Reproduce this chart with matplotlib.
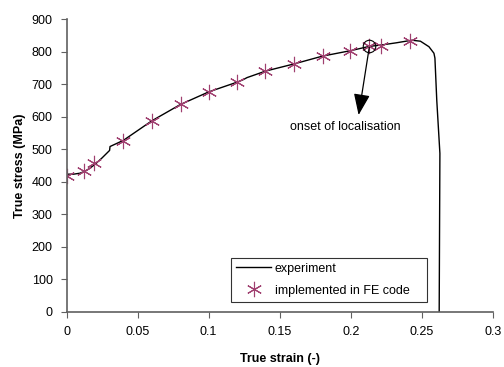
import numpy as np
import matplotlib
matplotlib.use('Agg')
import matplotlib.pyplot as plt

plt.rcParams['font.family'] = ['Liberation Sans', 'DejaVu Sans']

# experiment curve (true strain, true stress)
exp_strain = [0, 0.005, 0.0095, 0.013, 0.016, 0.02, 0.025, 0.0303, 0.0306, 0.04, 0.06, 0.08,
              0.1, 0.12, 0.124, 0.127, 0.14, 0.16, 0.18, 0.2, 0.213, 0.221, 0.232, 0.243,
              0.249, 0.255, 0.2585, 0.2592, 0.2605, 0.2627, 0.2622]
exp_stress = [423, 423, 426, 432, 440, 453, 473, 496, 508, 527, 587, 637,
              676, 706, 713, 720, 740, 762, 786, 803, 816, 820, 827, 835,
              832, 815, 795, 780, 650, 487, 0]

# points implemented in FE code
fe_strain = [0, 0.0125, 0.0196, 0.04, 0.06, 0.0805, 0.1, 0.12, 0.1396, 0.16, 0.1806,
             0.1994, 0.213, 0.221, 0.242]
fe_stress = [418, 432, 457, 525, 587, 638, 676, 706, 740, 761, 787, 802, 818, 818, 833]

xticks = [0, 0.05, 0.1, 0.15, 0.2, 0.25, 0.3]
xtick_labels = ['0', '0.05', '0.1', '0.15', '0.2', '0.25', '0.3']
yticks = [0, 100, 200, 300, 400, 500, 600, 700, 800, 900]

onset = (0.213, 818)

fig = plt.figure(figsize=(5.04, 3.67), dpi=100)
ax = fig.add_axes([0.132, 0.1507, 0.846, 0.7973])

ax.plot(exp_strain, exp_stress, color='black', lw=1.0, label='experiment')
ax.plot(fe_strain, fe_stress, ls='none', marker=(6, 2, 0), ms=11, mew=0.8,
        color='#a04070', label='implemented in FE code')

# circle on onset of localisation + arrow
ax.plot(onset[0], onset[1], ls='none', marker='o', ms=9, mfc='none', mec='black', mew=0.8)
ax.annotate('', xy=(0.2055, 605), xytext=(onset[0], onset[1] - 5),
            arrowprops=dict(arrowstyle='-|>,head_length=1.3,head_width=0.5', color='black',
                            lw=0.9, shrinkA=0, shrinkB=0))
ax.text(0.196, 569, 'onset of localisation', ha='center', va='center', fontsize=9)

ax.set_xlim(0, 0.3)
ax.set_ylim(0, 900)
ax.set_xticks(xticks)
ax.set_xticklabels(xtick_labels)
ax.set_yticks(yticks)
ax.tick_params(labelsize=9, length=4, color='#606060', pad=6)

for s in ['top', 'right']:
    ax.spines[s].set_visible(False)
for s in ['left', 'bottom']:
    ax.spines[s].set_color('#606060')
    ax.spines[s].set_linewidth(1.2)

ax.set_xlabel('True strain (-)', fontsize=9, fontweight='bold', labelpad=11)
ax.set_ylabel('True stress (MPa)', fontsize=9, fontweight='bold', labelpad=4)

leg = ax.legend(loc='lower left', bbox_to_anchor=(0.386, 0.034, 0.459, 0.171), mode='expand',
                fontsize=9, frameon=True, fancybox=False, borderaxespad=0, handlelength=2.8,
                handletextpad=0.3, labelspacing=0.8)
leg.get_frame().set_edgecolor('black')
leg.get_frame().set_linewidth(0.8)

fig.savefig('out.png', dpi=100)
